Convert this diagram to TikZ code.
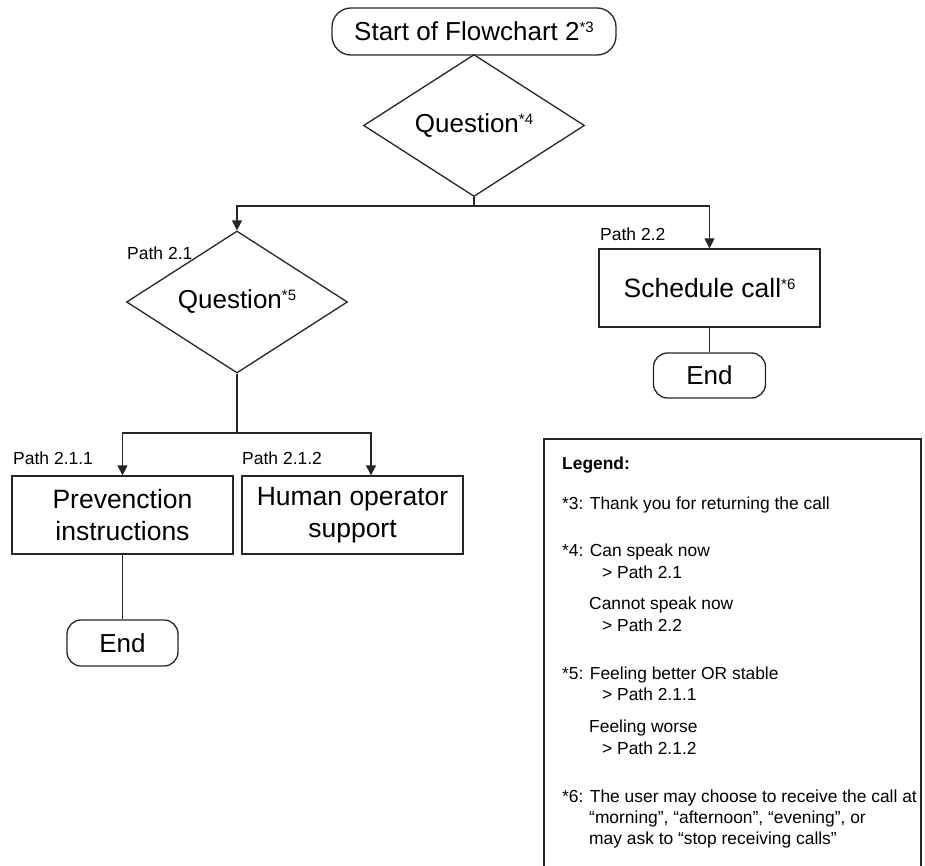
\documentclass[tikz,border=0pt]{standalone}
\usepackage{fontspec}
\setmainfont{Liberation Sans}
\usetikzlibrary{arrows.meta, positioning, shapes.geometric}

\newcommand{\fnref}[1]{\raisebox{8pt}{\fontsize{15}{15}\selectfont *#1}}

\begin{document}
\begin{tikzpicture}[x=1pt, y=-1pt, >={Triangle[length=10pt, width=10pt]}]
		\tikzstyle{terminal} = [draw=black!85, line width=1.3pt, rounded corners=14pt, minimum width=112pt, minimum height=45pt, inner sep=0pt, font=\fontsize{26}{32}\selectfont]
		\tikzstyle{decision} = [draw=black!85, line width=1.3pt, diamond, minimum width=221pt, minimum height=106pt, inner sep=0pt, font=\fontsize{26}{32}\selectfont]
		\tikzstyle{process} = [draw=black!85, line width=1.3pt, rectangle, minimum width=221pt, minimum height=78pt, inner sep=0pt, align=center, font=\fontsize{26.5}{32}\selectfont]
		\tikzstyle{pathlabel} = [anchor=base west, inner sep=0pt, font=\fontsize{17.5}{21}\selectfont]
		\tikzstyle{legendtext} = [anchor=base west, inner sep=0pt, font=\fontsize{17.4}{21.5}\selectfont]
		\tikzstyle{line} = [draw=black!85, line width=1.3pt]
		\tikzstyle{arrow} = [line, ->]

		\useasboundingbox (0, 0) rectangle (925, 866);

		% flowchart
		\node[terminal, rounded corners=19pt, minimum width=284pt, minimum height=47pt] at (474, 31.5) (start) {Start of Flowchart 2\fnref{3}};
		\node[decision] at (474, 125.5) (q1) {Question\fnref{4}};
		\node[decision] at (237, 302) (q2) {Question\fnref{5}};
		\node[process] at (709.5, 288) (sched) {Schedule call\fnref{6}};
		\node[terminal] at (709.5, 375.5) (end2) {End};
		\node[process] at (122.5, 515) (prev) {Prevenction\\instructions};
		\node[process] at (352.5, 515) (human) {Human operator\\support};
		\node[terminal, minimum width=111pt, minimum height=46pt] at (122.5, 643) (end1) {End};

		\node[pathlabel] at (127, 260) (p21) {Path 2.1};
		\node[pathlabel] at (600, 241) (p22) {Path 2.2};
		\node[pathlabel] at (13, 464) (p211) {Path 2.1.1};
		\node[pathlabel] at (242, 464) (p212) {Path 2.1.2};

		\coordinate (j1) at (474, 206);
		\coordinate (j2) at (237, 433);
		\coordinate (j2r) at (371, 433);

		\draw[line] (start) -- (q1);
		\draw[line] (q1.south) -- (j1);
		\draw[arrow] (j1) -| (q2.north);
		\draw[arrow] (j1) -| (sched.north);
		\draw[line] (sched) -- (end2);
		\draw[line] (q2.south) -- (j2);
		\draw[arrow] (j2) -| (prev.north);
		\draw[arrow] (j2) -- (j2r) -- (j2r |- human.north);
		\draw[line] (prev) -- (end1);

		% legend
		\draw[line] (544, 875) -- (544, 439) -- (921, 439) -- (921, 875);
		\foreach \xx/\yy/\txt [count=\i] in {
			562/469/{\textbf{Legend:}},
			562/509/{*3: Thank you for returning the call},
			562/556/{*4: Can speak now},
			602/578/{> Path 2.1},
			589/609/{Cannot speak now},
			602/631/{> Path 2.2},
			562/679/{*5: Feeling better OR stable},
			602/700/{> Path 2.1.1},
			589/732/{Feeling worse},
			602/754/{> Path 2.1.2},
			562/802/{*6: The user may choose to receive the call at},
			589/823/{“morning”, “afternoon”, “evening”, or},
			589/844/{may ask to “stop receiving calls”}}
			\node[legendtext] at (\xx, \yy) (lg\i) {\txt};
	\end{tikzpicture}
\end{document}
